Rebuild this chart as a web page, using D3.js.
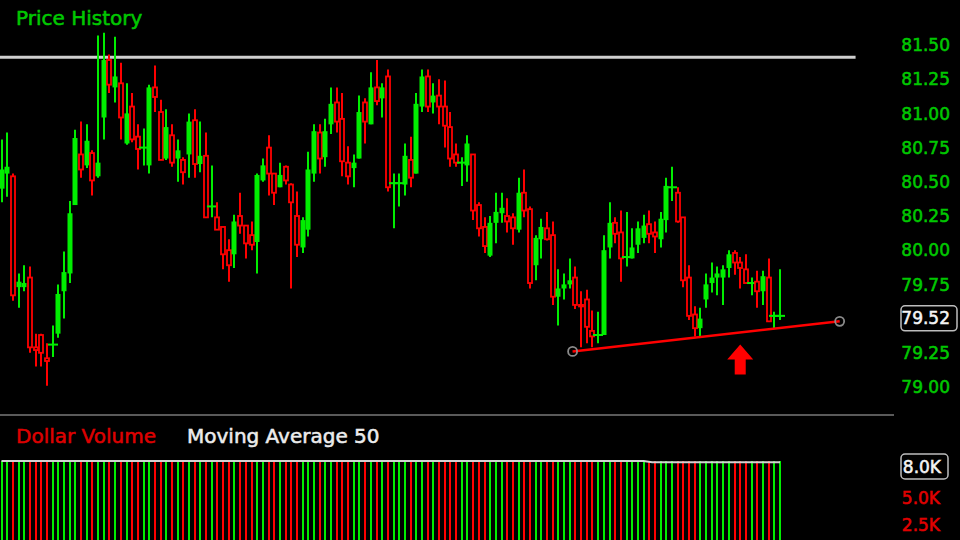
<!DOCTYPE html>
<html>
<head>
<meta charset="utf-8">
<script src="https://cdn.jsdelivr.net/npm/d3@7/dist/d3.min.js"></script>
<style>
  html, body { margin: 0; padding: 0; background: #000; }
  svg { display: block; font-family: "DejaVu Sans", Verdana, sans-serif; }
  svg text { stroke-width: 0.55px; paint-order: stroke; }
</style>
</head>
<body>
<div id="chart"></div>
<script>
// price candles (oldest first)
const opens = [80.45,80.56,80.54,79.73,79.73,79.80,79.29,79.38,79.21,79.31,
  79.39,79.70,79.83,80.33,80.70,80.62,80.71,80.54,80.97,81.39,
  81.19,81.22,80.78,81.05,80.83,80.75,80.62,81.19,81.01,80.67,
  80.84,80.67,80.66,80.70,80.95,80.63,80.69,80.32,80.24,80.17,
  80.00,79.97,80.25,80.18,80.11,80.06,80.51,80.75,80.56,80.46,
  80.61,80.48,80.25,80.02,80.15,80.56,80.86,80.68,80.92,81.08,
  80.96,80.64,80.60,80.67,81.08,80.92,81.19,81.11,81.27,80.49,
  80.49,80.48,80.66,80.56,81.05,81.27,81.08,81.13,81.05,80.90,
  80.70,80.64,80.62,80.70,80.33,80.17,79.96,80.20,80.27,80.25,
  80.24,80.15,80.42,80.30,79.89,80.08,80.16,80.11,79.66,79.72,
  79.75,79.80,79.60,79.64,79.41,79.38,79.38,80.02,80.20,80.13,
  79.95,79.94,80.04,80.09,80.19,80.13,80.08,80.22,80.46,80.42,
  80.24,79.80,79.53,79.43,79.64,79.76,79.80,79.80,79.87,79.98,
  79.91,79.86,79.76,79.77,79.70,79.80,79.52,79.52];
const highs = [80.81,80.86,80.56,79.83,79.89,79.88,79.39,79.39,79.32,79.45,
  79.75,79.99,80.36,80.88,80.94,80.92,80.73,81.57,81.59,81.43,
  81.56,81.37,81.22,81.15,80.92,80.89,81.21,81.35,81.10,81.03,
  80.92,80.81,80.68,81.00,81.03,80.94,80.86,80.62,80.35,80.17,
  80.08,80.26,80.42,80.18,80.21,80.56,80.67,80.84,80.56,80.64,
  80.62,80.49,80.43,80.24,80.72,80.92,80.92,80.96,81.19,81.19,
  81.15,80.76,80.70,81.13,81.11,81.30,81.39,81.22,81.32,80.56,
  80.56,80.78,80.83,81.15,81.32,81.32,81.22,81.25,81.24,81.01,
  80.78,80.68,80.84,80.70,80.35,80.24,80.25,80.42,80.42,80.38,
  80.27,80.53,80.59,80.32,80.11,80.23,80.28,80.21,79.86,79.83,
  79.94,79.88,79.70,79.71,79.56,79.55,80.11,80.35,80.24,80.29,
  80.28,80.16,80.21,80.26,80.29,80.21,80.28,80.53,80.61,80.46,
  80.24,79.89,79.59,79.58,79.83,79.91,79.88,79.89,80.00,80.00,
  79.95,79.97,79.80,79.85,79.85,79.94,79.55,79.86];
const lows = [80.35,80.39,79.63,79.58,79.70,79.25,79.15,79.15,79.01,79.22,
  79.36,79.50,79.76,80.33,80.53,80.60,80.40,80.53,80.81,81.15,
  81.08,80.81,80.77,80.79,80.59,80.62,80.56,81.01,80.66,80.66,
  80.61,80.50,80.48,80.53,80.53,80.57,80.24,80.24,80.15,79.86,
  79.77,79.87,80.12,79.94,80.00,79.83,80.50,80.40,80.33,80.46,
  80.48,79.72,79.95,79.98,80.10,80.50,80.56,80.61,80.85,80.86,
  80.54,80.48,80.46,80.67,80.78,80.92,81.06,80.97,80.43,80.16,
  80.32,80.40,80.46,80.56,81.01,81.01,81.00,80.92,80.75,80.61,
  80.61,80.47,80.50,80.22,80.10,79.98,79.95,80.05,80.20,80.13,
  80.04,80.13,80.24,79.72,79.78,79.94,80.07,79.60,79.45,79.64,
  79.72,79.57,79.29,79.32,79.29,79.32,79.38,79.94,80.05,79.77,
  79.88,79.94,79.98,80.05,80.05,79.98,80.02,80.13,80.36,80.20,
  79.73,79.49,79.37,79.37,79.58,79.69,79.67,79.60,79.80,79.82,
  79.72,79.76,79.67,79.58,79.60,79.48,79.43,79.49];
const closes = [80.59,80.61,79.67,79.77,79.76,79.29,79.27,79.25,79.19,79.31,
  79.68,79.84,80.27,80.82,80.59,80.80,80.51,80.64,81.39,81.21,
  81.27,80.97,81.00,80.81,80.74,80.75,81.19,81.12,80.66,80.90,
  80.64,80.73,80.57,80.94,80.63,80.69,80.24,80.32,80.15,79.97,
  79.89,80.21,80.18,80.05,80.04,80.55,80.62,80.56,80.42,80.55,
  80.51,80.35,80.04,80.22,80.59,80.87,80.67,80.87,81.07,80.94,
  80.65,80.54,80.64,81.01,80.94,81.19,81.09,81.19,80.46,80.49,
  80.49,80.69,80.53,81.07,81.27,81.05,81.13,81.05,80.91,80.67,
  80.64,80.64,80.78,80.29,80.16,80.03,80.20,80.28,80.31,80.21,
  80.16,80.42,80.29,79.76,80.09,80.17,80.08,79.66,79.72,79.75,
  79.78,79.60,79.59,79.44,79.37,79.38,80.00,80.20,80.12,79.94,
  79.95,80.02,80.16,80.18,80.12,80.10,80.23,80.47,80.46,80.21,
  79.78,79.52,79.43,79.50,79.75,79.80,79.83,79.86,79.97,79.91,
  79.87,79.76,79.76,79.70,79.81,79.48,79.52,79.52];

// dollar volume (thousands) - bars all run past the top of the pane
const volumes = [10.4,9.8,12.1,9.5,9.2,11.6,10.3,9.9,12.4,9.1,
  10.8,11.2,12.6,13.4,10.9,10.2,9.7,13.8,14.2,11.1,
  10.6,11.9,10.1,10.7,9.6,9.0,12.3,10.5,11.4,10.0,
  9.8,9.4,9.3,10.9,11.0,9.7,11.8,9.2,9.6,10.8,
  10.1,10.5,9.9,9.4,9.1,12.2,9.8,10.6,9.5,9.3,
  9.1,11.7,10.4,10.0,11.3,11.5,10.2,10.4,10.9,10.1,
  10.8,9.6,9.4,11.2,10.3,10.9,10.2,9.7,13.1,9.9,
  9.5,10.6,10.1,11.8,11.0,10.7,9.6,10.2,10.5,10.8,
  9.4,9.2,10.3,11.4,10.2,10.0,10.6,9.8,9.3,9.5,
  9.7,10.4,10.1,12.0,10.9,9.6,9.4,11.9,10.2,9.5,
  9.3,10.7,11.1,10.4,9.6,9.2,12.5,11.0,9.7,10.6,
  9.1,9.6,10.0,9.7,9.8,9.3,10.2,10.8,9.4,10.1,
  11.6,11.2,10.3,9.7,10.5,9.8,9.6,9.9,10.4,9.7,
  9.6,9.9,9.2,9.8,10.1,11.3,9.4,10.0];
// 50-bar moving average of dollar volume (thousands), breakpoints by bar
const maIndex = [0, 113, 114.5, 137];
const maValues = [8.42, 8.42, 8.32, 8.32];

const priceTicks = [81.5, 81.25, 81.0, 80.75, 80.5, 80.25, 80.0, 79.75, 79.25, 79.0];
const lastPrice = 79.52;
const volumeTicks = [5.0, 2.5];
const lastMa = 8.0;
const resistanceLevel = 81.41;
const resistanceEnd = 150.3;
const trendIdx = [100.5, 147.5];
const trendPrice = [79.26, 79.48];
const arrowIdx = 130;
const arrowPrice = 79.31;

const W = 960, H = 540;
const GREEN = "#00ee00", RED = "#ff0000", TXTGREEN = "#00c800";

const svg = d3.select("#chart").append("svg")
  .attr("width", W).attr("height", H);
svg.append("rect").attr("width", W).attr("height", H).attr("fill", "#000");

const x = d3.scaleLinear().domain([0, closes.length - 1]).range([1.5, 780]);
const y = d3.scaleLinear().domain([79, 81.5]).range([387, 45]);
const yv = d3.scaleLinear().domain([0, 8]).range([552, 465.6]);

const bars = closes.map((c, i) => ({ i, o: opens[i], h: highs[i], l: lows[i], c, v: volumes[i] }));
const isUp = d => d.c >= d.o;

// titles
svg.append("text").attr("x", 16).attr("y", 25).attr("fill", TXTGREEN).attr("stroke", TXTGREEN)
  .style("font-size", "20px").text("Price History");

// resistance line
svg.append("line")
  .attr("x1", 0).attr("x2", x(resistanceEnd))
  .attr("y1", y(resistanceLevel)).attr("y2", y(resistanceLevel))
  .attr("stroke", "#cfcfcf").attr("stroke-width", 3);

// candles
const cg = svg.append("g");
const candle = cg.selectAll("g").data(bars).join("g");
candle.append("line")
  .attr("x1", d => Math.round(x(d.i))).attr("x2", d => Math.round(x(d.i)))
  .attr("y1", d => y(d.h)).attr("y2", d => y(d.l))
  .attr("stroke", d => isUp(d) ? GREEN : RED).attr("stroke-width", 2);
candle.filter(d => Math.abs(d.c - d.o) < 0.005).append("line")
  .attr("x1", d => Math.round(x(d.i)) - 5).attr("x2", d => Math.round(x(d.i)) + 5)
  .attr("y1", d => y(d.c)).attr("y2", d => y(d.c))
  .attr("stroke", GREEN).attr("stroke-width", 2);
candle.filter(d => Math.abs(d.c - d.o) >= 0.005 && isUp(d)).append("rect")
  .attr("x", d => Math.round(x(d.i)) - 2.5).attr("width", 5)
  .attr("y", d => y(d.c)).attr("height", d => Math.max(2, y(d.o) - y(d.c)))
  .attr("fill", GREEN);
candle.filter(d => Math.abs(d.c - d.o) >= 0.005 && !isUp(d)).append("rect")
  .attr("x", d => Math.round(x(d.i)) - 2).attr("width", 4)
  .attr("y", d => y(d.o)).attr("height", d => Math.max(1.5, y(d.c) - y(d.o)))
  .attr("fill", "#000").attr("stroke", RED).attr("stroke-width", 1.8);

// support trend line
svg.append("line")
  .attr("x1", x(trendIdx[0])).attr("y1", y(trendPrice[0]))
  .attr("x2", x(trendIdx[1])).attr("y2", y(trendPrice[1]))
  .attr("stroke", RED).attr("stroke-width", 2.5);
svg.selectAll(".handle").data(trendIdx).join("circle").attr("class", "handle")
  .attr("cx", (d, k) => x(d)).attr("cy", (d, k) => y(trendPrice[k])).attr("r", 4.5)
  .attr("fill", "none").attr("stroke", "#8a8a8a").attr("stroke-width", 1.8);

// arrow
const ax = x(arrowIdx), ay = y(arrowPrice);
svg.append("path")
  .attr("d", `M${ax},${ay} L${ax + 13},${ay + 15} L${ax + 5.5},${ay + 15} L${ax + 5.5},${ay + 30}
    L${ax - 5.5},${ay + 30} L${ax - 5.5},${ay + 15} L${ax - 13},${ay + 15} Z`)
  .attr("fill", RED);

// price axis labels
svg.append("g").selectAll("text").data(priceTicks).join("text")
  .attr("x", 950).attr("y", d => y(d)).attr("dy", "0.36em")
  .attr("text-anchor", "end").attr("fill", TXTGREEN).attr("stroke", TXTGREEN)
  .style("font-size", "17px").text(d => d3.format(".2f")(d));

const py = y(lastPrice) + 2.5;
svg.append("rect").attr("x", 901).attr("y", py - 12.5).attr("width", 56).attr("height", 25)
  .attr("rx", 4).attr("fill", "#000").attr("stroke", "#bdbdbd").attr("stroke-width", 1.5);
svg.append("text").attr("x", 950).attr("y", py).attr("dy", "0.36em")
  .attr("text-anchor", "end").attr("fill", "#f4f4f4").attr("stroke", "#f4f4f4")
  .style("font-size", "17px").text(d3.format(".2f")(lastPrice));

// separator
svg.append("line").attr("x1", 0).attr("x2", 894).attr("y1", 415).attr("y2", 415)
  .attr("stroke", "#5a5a5a").attr("stroke-width", 2);

// volume pane
svg.append("text").attr("x", 16).attr("y", 443).attr("fill", "#dd0000").attr("stroke", "#dd0000")
  .style("font-size", "20px").text("Dollar Volume");
svg.append("text").attr("x", 187).attr("y", 443).attr("fill", "#ececec").attr("stroke", "#ececec")
  .style("font-size", "20px").text("Moving Average 50");

svg.append("clipPath").attr("id", "volclip").append("rect")
  .attr("x", 0).attr("y", 461).attr("width", 800).attr("height", 90);
const vg = svg.append("g").attr("clip-path", "url(#volclip)");
vg.selectAll("line").data(bars).join("line")
  .attr("x1", d => Math.round(x(d.i))).attr("x2", d => Math.round(x(d.i)))
  .attr("y1", d => yv(d.v)).attr("y2", yv(0))
  .attr("stroke", d => isUp(d) ? GREEN : RED).attr("stroke-width", 2);

const maLine = d3.line().x(d => x(d[0])).y(d => yv(d[1]));
svg.append("path").datum(maIndex.map((v, k) => [v, maValues[k]]))
  .attr("d", maLine).attr("fill", "none")
  .attr("stroke", "#d0d0d0").attr("stroke-width", 2);

svg.append("g").selectAll("text").data(volumeTicks).join("text")
  .attr("x", 940).attr("y", d => yv(d)).attr("dy", "0.36em")
  .attr("text-anchor", "end").attr("fill", "#e00000").attr("stroke", "#e00000")
  .style("font-size", "17px").text(d => d3.format(".1f")(d) + "K");
svg.append("rect").attr("x", 901).attr("y", 454).attr("width", 47).attr("height", 25)
  .attr("rx", 4).attr("fill", "#000").attr("stroke", "#bdbdbd").attr("stroke-width", 1.5);
svg.append("text").attr("x", 941).attr("y", 466.5).attr("dy", "0.36em")
  .attr("text-anchor", "end").attr("fill", "#f4f4f4").attr("stroke", "#f4f4f4")
  .style("font-size", "17px").text(d3.format(".1f")(lastMa) + "K");
</script>
</body>
</html>
